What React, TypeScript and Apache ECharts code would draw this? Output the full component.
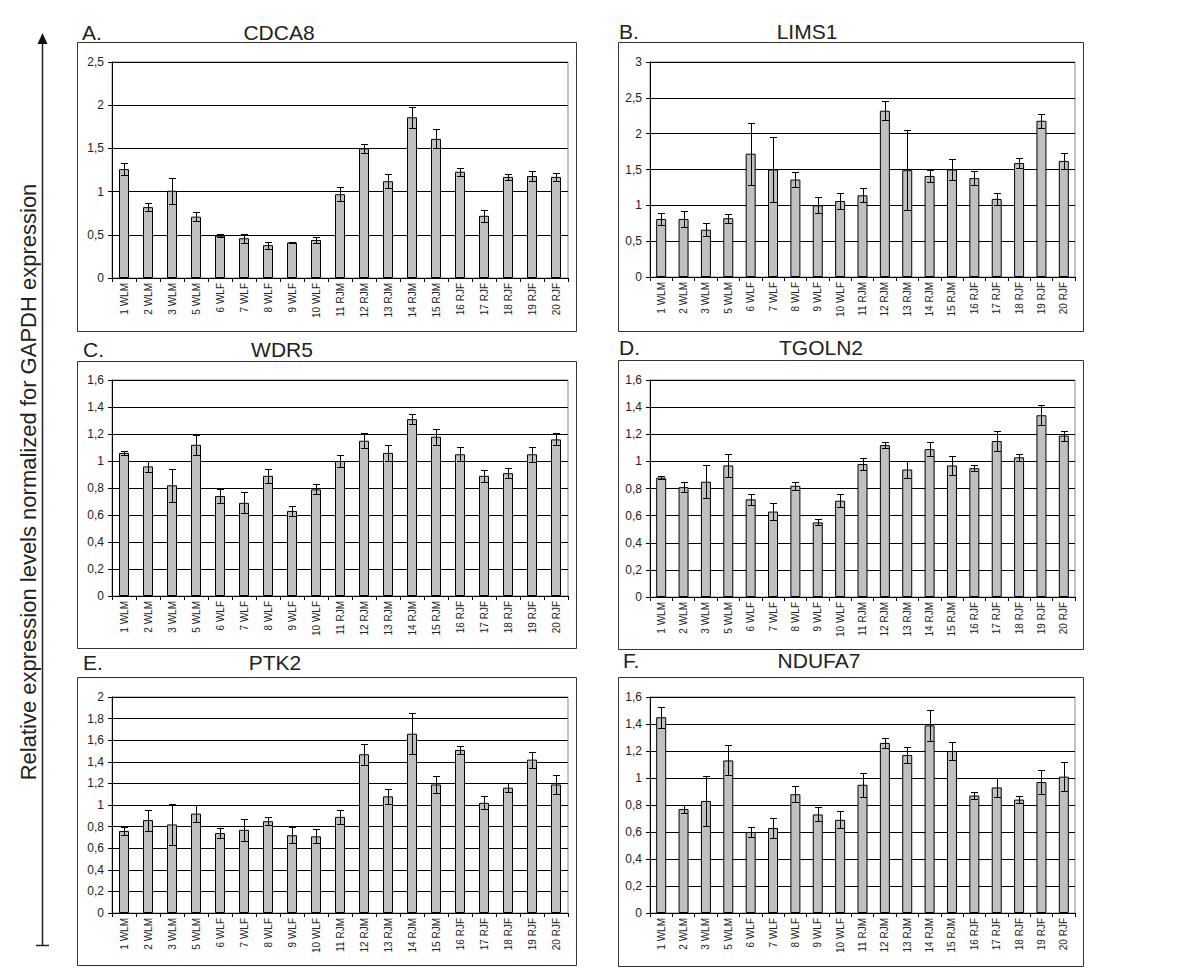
import React, { useEffect, useRef } from "react";
import * as echarts from "echarts";

const categories = [
  "1 WLM", "2 WLM", "3 WLM", "5 WLM", "6 WLF", "7 WLF", "8 WLF", "9 WLF", "10 WLF",
  "11 RJM", "12 RJM", "13 RJM", "14 RJM", "15 RJM", "16 RJF", "17 RJF", "18 RJF", "19 RJF", "20 RJF",
];

const panelLetters = ["A.", "B.", "C.", "D.", "E.", "F."];
const geneNames = ["CDCA8", "LIMS1", "WDR5", "TGOLN2", "PTK2", "NDUFA7"];
const yMaxes = [2.5, 3, 1.6, 1.6, 2, 1.6];
const yIntervals = [0.5, 0.5, 0.2, 0.2, 0.2, 0.2];
const sideTitle = "Relative expression levels normalized for GAPDH expression";

const cdca8Values = [1.26, 0.82, 1.01, 0.71, 0.49, 0.46, 0.38, 0.41, 0.44, 0.97, 1.5, 1.12, 1.86, 1.61, 1.23, 0.72, 1.17, 1.18, 1.17];
const cdca8Errors = [0.07, 0.05, 0.15, 0.05, 0.02, 0.05, 0.04, 0.01, 0.03, 0.08, 0.05, 0.08, 0.12, 0.11, 0.045, 0.07, 0.03, 0.06, 0.05];

const lims1Values = [0.81, 0.81, 0.66, 0.82, 1.72, 1.5, 1.36, 1.0, 1.06, 1.14, 2.32, 1.49, 1.41, 1.5, 1.38, 1.09, 1.59, 2.18, 1.62];
const lims1Errors = [0.08, 0.11, 0.09, 0.065, 0.43, 0.45, 0.1, 0.11, 0.11, 0.095, 0.13, 0.56, 0.09, 0.15, 0.1, 0.085, 0.07, 0.1, 0.11];

const wdr5Values = [1.06, 0.96, 0.82, 1.12, 0.74, 0.69, 0.89, 0.63, 0.79, 1.0, 1.15, 1.06, 1.31, 1.18, 1.05, 0.89, 0.91, 1.05, 1.16];
const wdr5Errors = [0.016, 0.04, 0.12, 0.074, 0.053, 0.077, 0.053, 0.04, 0.037, 0.045, 0.054, 0.06, 0.037, 0.06, 0.053, 0.044, 0.036, 0.054, 0.045];

const tgoln2Values = [0.88, 0.81, 0.85, 0.97, 0.72, 0.63, 0.82, 0.55, 0.71, 0.98, 1.12, 0.94, 1.09, 0.97, 0.95, 1.15, 1.03, 1.34, 1.19];
const tgoln2Errors = [0.009, 0.036, 0.12, 0.086, 0.04, 0.064, 0.028, 0.022, 0.046, 0.043, 0.025, 0.065, 0.05, 0.07, 0.021, 0.077, 0.027, 0.074, 0.037];

const ptk2Values = [0.76, 0.86, 0.82, 0.92, 0.74, 0.77, 0.85, 0.72, 0.71, 0.89, 1.47, 1.08, 1.66, 1.19, 1.51, 1.02, 1.16, 1.42, 1.19];
const ptk2Errors = [0.04, 0.097, 0.19, 0.077, 0.046, 0.099, 0.036, 0.074, 0.065, 0.063, 0.097, 0.068, 0.188, 0.08, 0.034, 0.059, 0.04, 0.074, 0.09];

const ndufa7Values = [1.45, 0.77, 0.83, 1.13, 0.6, 0.63, 0.88, 0.73, 0.69, 0.95, 1.26, 1.17, 1.39, 1.2, 0.87, 0.93, 0.84, 0.97, 1.01];
const ndufa7Errors = [0.079, 0.032, 0.185, 0.111, 0.038, 0.074, 0.06, 0.052, 0.062, 0.089, 0.037, 0.057, 0.115, 0.063, 0.027, 0.073, 0.026, 0.088, 0.109];

const panelValues = [cdca8Values, lims1Values, wdr5Values, tgoln2Values, ptk2Values, ndufa7Values];
const panelErrors = [cdca8Errors, lims1Errors, wdr5Errors, tgoln2Errors, ptk2Errors, ndufa7Errors];

// layout only (pixel positions)
const layouts = [
  { grid: { left: 112, top: 62, width: 456, height: 216 }, box: [77, 42, 499, 289], letter: [82, 32], title: [279, 32] },
  { grid: { left: 650, top: 62, width: 425, height: 215 }, box: [618, 42, 465, 289], letter: [619, 31], title: [807, 31] },
  { grid: { left: 112, top: 380, width: 456, height: 216 }, box: [77, 361, 499, 287], letter: [83, 349], title: [282, 349] },
  { grid: { left: 650, top: 380, width: 425, height: 217 }, box: [618, 360, 465, 289], letter: [619, 347], title: [821, 347] },
  { grid: { left: 112, top: 697, width: 456, height: 216 }, box: [77, 677, 499, 288], letter: [83, 662], title: [275, 662] },
  { grid: { left: 650, top: 697, width: 425, height: 216 }, box: [618, 677, 465, 289], letter: [623, 660], title: [819, 660] },
];

const FONT = "'Liberation Sans', Arial, Helvetica, sans-serif";

function fmt(v: number) {
  return String(parseFloat(v.toFixed(2))).replace(".", ",");
}

export default function App() {
  const ref = useRef<HTMLDivElement>(null);

  useEffect(() => {
    if (!ref.current) return;
    const chart = echarts.init(ref.current, null, { renderer: "svg" });

    const grids: any[] = [];
    const xAxes: any[] = [];
    const yAxes: any[] = [];
    const series: any[] = [];
    const graphics: any[] = [];

    layouts.forEach((lay, i) => {
      grids.push({
        ...lay.grid,
        show: true,
        backgroundColor: "#ffffff",
        borderColor: "#8a8a8a",
        borderWidth: 1,
        containLabel: false,
      });
      xAxes.push({
        type: "category",
        gridIndex: i,
        data: categories,
        boundaryGap: true,
        axisLine: { show: true, lineStyle: { color: "#000", width: 1 } },
        axisTick: { show: true, alignWithLabel: false, length: 4, lineStyle: { color: "#000" } },
        axisLabel: {
          rotate: 90,
          interval: 0,
          margin: 5,
          fontSize: 10,
          color: "#222",
          fontFamily: FONT,
        },
        splitLine: { show: false },
      });
      yAxes.push({
        type: "value",
        gridIndex: i,
        min: 0,
        max: yMaxes[i],
        interval: yIntervals[i],
        axisLine: { show: true, lineStyle: { color: "#000", width: 1 } },
        axisTick: { show: true, length: 4, lineStyle: { color: "#000" } },
        axisLabel: {
          margin: 8,
          fontSize: 12,
          color: "#222",
          fontFamily: FONT,
          formatter: (v: number) => fmt(v),
        },
        splitLine: { show: true, lineStyle: { color: "#000", width: 1 } },
      });

      const vals = panelValues[i];
      const errs = panelErrors[i];
      series.push({
        type: "bar",
        xAxisIndex: i,
        yAxisIndex: i,
        data: vals,
        barWidth: 10,
        itemStyle: { color: "#c0c0c0", borderColor: "#000", borderWidth: 1 },
        z: 2,
      });
      series.push({
        type: "custom",
        xAxisIndex: i,
        yAxisIndex: i,
        data: vals.map((v, k) => [k, v - errs[k], v + errs[k]]),
        encode: { x: 0, y: [1, 2] },
        z: 5,
        renderItem: (params: any, api: any) => {
          const idx = api.value(0);
          const lo = api.value(1);
          const hi = api.value(2);
          const pHi = api.coord([idx, hi]);
          const pLo = api.coord([idx, lo]);
          const cx = Math.round(pHi[0]) + 0.5;
          const yh = Math.round(pHi[1]) + 0.5;
          const yl = Math.round(pLo[1]) + 0.5;
          const w = 3.5;
          const st = { stroke: "#000", lineWidth: 1 };
          return {
            type: "group",
            children: [
              { type: "line", shape: { x1: cx, y1: yh, x2: cx, y2: yl }, style: st },
              { type: "line", shape: { x1: cx - w, y1: yh, x2: cx + w, y2: yh }, style: st },
              { type: "line", shape: { x1: cx - w, y1: yl, x2: cx + w, y2: yl }, style: st },
            ],
          };
        },
      });

      const [bx, by, bw, bh] = lay.box;
      graphics.push({
        type: "rect",
        shape: { x: bx + 0.5, y: by + 0.5, width: bw, height: bh },
        style: { fill: "none", stroke: "#333", lineWidth: 1 },
        z: -1,
        silent: true,
      });
      graphics.push({
        type: "text",
        x: lay.letter[0],
        y: lay.letter[1],
        style: {
          text: panelLetters[i],
          fontSize: 21,
          fontWeight: "normal",
          fontFamily: FONT,
          fill: "#222",
          align: "left",
          verticalAlign: "middle",
        },
      });
      graphics.push({
        type: "text",
        x: lay.title[0],
        y: lay.title[1],
        style: {
          text: geneNames[i],
          fontSize: 21,
          fontWeight: "normal",
          fontFamily: FONT,
          fill: "#222",
          align: "center",
          verticalAlign: "middle",
        },
      });
    });

    // side axis arrow and title
    graphics.push({
      type: "line",
      shape: { x1: 42.5, y1: 42, x2: 42.5, y2: 945 },
      style: { stroke: "#222", lineWidth: 1.5 },
    });
    graphics.push({
      type: "polygon",
      shape: { points: [[42.5, 33], [37.5, 44], [47.5, 44]] },
      style: { fill: "#111" },
    });
    graphics.push({
      type: "line",
      shape: { x1: 36, y1: 945.5, x2: 49, y2: 945.5 },
      style: { stroke: "#222", lineWidth: 1.5 },
    });
    graphics.push({
      type: "text",
      x: 28,
      y: 482,
      rotation: Math.PI / 2,
      style: {
        text: sideTitle,
        fontSize: 22,
        fontFamily: FONT,
        fill: "#222",
        align: "center",
        verticalAlign: "middle",
      },
    });

    chart.setOption({
      animation: false,
      backgroundColor: "#ffffff",
      grid: grids,
      xAxis: xAxes,
      yAxis: yAxes,
      series,
      graphic: graphics,
    });

    return () => {
      chart.dispose();
    };
  }, []);

  return (
    <div
      ref={ref}
      style={{ position: "fixed", left: 0, top: 0, width: 1200, height: 971, background: "#fff" }}
    />
  );
}
